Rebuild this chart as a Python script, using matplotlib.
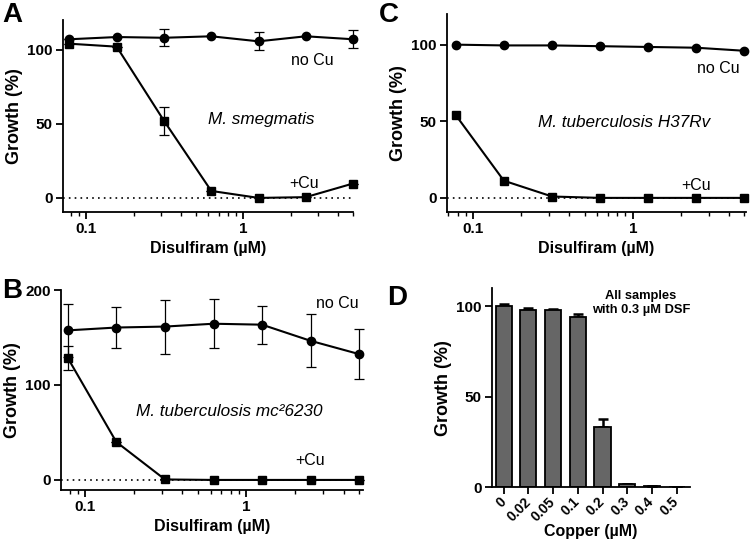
import matplotlib
matplotlib.use("Agg")
import matplotlib.pyplot as plt
from matplotlib.ticker import FixedLocator, FixedFormatter, LogLocator, NullFormatter

plt.rcParams["font.family"] = ["Liberation Sans", "DejaVu Sans"]
plt.rcParams["axes.linewidth"] = 1.3

# disulfiram doses (uM)
dsf = [0.078, 0.156, 0.3125, 0.625, 1.25, 2.5, 5.0]

# panel A - M. smegmatis
a_nocu = [107, 108.5, 108, 109, 105.6, 109, 107]
a_nocu_err = [0, 0, 5.7, 0, 6, 0, 6]
a_cu = [104, 102, 52, 4.7, 0, 0.5, 9.7]
a_cu_err = [0, 0, 9.5, 0, 0, 0, 0]

# panel B - M. tuberculosis mc2 6230
b_nocu = [157.5, 160.5, 161.5, 164.5, 163.5, 146.5, 132.5]
b_nocu_err = [28, 22, 28.5, 26, 20, 28, 26]
b_cu = [128.5, 40, 0.5, 0, 0, 0, 0]
b_cu_err = [13, 0, 0, 0, 0, 0, 0]

# panel C - M. tuberculosis H37Rv
c_nocu = [100, 99.5, 99.5, 99, 98.5, 98, 96]
c_cu = [54, 11.2, 0.9, 0, 0, 0, 0]

# panel D - copper titration with 0.3 uM DSF
copper = ["0", "0.02", "0.05", "0.1", "0.2", "0.3", "0.4", "0.5"]
d_growth = [100, 98, 98, 94, 33, 1.5, 0.5, 0]
d_err = [1.5, 1.0, 0.8, 1.5, 4.5, 0, 0, 0]

tick_font = dict(fontsize=11, fontweight="bold")
xlabel_font = dict(fontsize=11.5, fontweight="bold")
ylabel_font = dict(fontsize=13, fontweight="bold")

fig = plt.figure(figsize=(7.5, 5.43), dpi=100)
ax_a = fig.add_axes([0.084, 0.6096, 0.3867, 0.3536])
ax_c = fig.add_axes([0.5964, 0.6096, 0.398, 0.3646])
ax_b = fig.add_axes([0.0813, 0.0976, 0.403, 0.3683])
ax_d = fig.add_axes([0.6564, 0.1031, 0.2636, 0.366])


def dose_panel(ax, nocu, cu, nocu_err, cu_err, ylim, yticks, xlim):
    ax.axhline(0, color="black", linestyle=(0, (1, 2.5)), linewidth=1.2, zorder=1)
    ax.errorbar(dsf, nocu, yerr=nocu_err, color="black", marker="o", markersize=6,
                linewidth=1.5, elinewidth=0.9, capsize=3.5, capthick=0.9, clip_on=False, zorder=3)
    ax.errorbar(dsf, cu, yerr=cu_err, color="black", marker="s", markersize=6,
                linewidth=1.5, elinewidth=0.9, capsize=3.5, capthick=0.9, clip_on=False, zorder=3)
    ax.set_xscale("log")
    ax.set_xlim(*xlim)
    ax.set_ylim(*ylim)
    ax.xaxis.set_major_locator(FixedLocator([0.1, 1]))
    ax.xaxis.set_major_formatter(FixedFormatter(["0.1", "1"]))
    ax.xaxis.set_minor_locator(LogLocator(base=10, subs=range(2, 10)))
    ax.xaxis.set_minor_formatter(NullFormatter())
    ax.set_yticks(yticks)
    ax.set_yticklabels([str(v) for v in yticks], **tick_font)
    for lab in ax.get_xticklabels():
        lab.set_fontsize(11)
        lab.set_fontweight("bold")
    ax.tick_params(axis="both", which="major", length=5, width=1.3, pad=2.5)
    ax.tick_params(axis="x", which="minor", length=3, width=1.0)
    ax.spines["top"].set_visible(False)
    ax.spines["right"].set_visible(False)
    ax.set_xlabel("Disulfiram (µM)", labelpad=3, **xlabel_font)
    ax.set_ylabel("Growth (%)", labelpad=3, **ylabel_font)


dose_panel(ax_a, a_nocu, a_cu, a_nocu_err, a_cu_err, (-9.5, 120), [0, 50, 100], (0.071, 5.0))
ax_a.text(2.0, 93, "no Cu", fontsize=11.5, va="center")
ax_a.text(1.95, 9.5, "+Cu", fontsize=11.5, va="center")
ax_a.text(0.596, 52.7, "M. smegmatis", fontsize=12.3, style="italic", va="center")

dose_panel(ax_c, c_nocu, c_cu, None, None, (-9.2, 120), [0, 50, 100], (0.069, 5.1))
ax_c.text(2.51, 84.5, "no Cu", fontsize=11.5, va="center")
ax_c.text(2.02, 8.3, "+Cu", fontsize=11.5, va="center")
ax_c.text(0.254, 49.4, "M. tuberculosis H37Rv", fontsize=12.3, style="italic", va="center")

dose_panel(ax_b, b_nocu, b_cu, b_nocu_err, b_cu_err, (-10.6, 200), [0, 100, 200], (0.0708, 5.3))
ax_b.text(2.69, 186, "no Cu", fontsize=11.5, va="center")
ax_b.text(2.02, 20, "+Cu", fontsize=11.5, va="center")
ax_b.text(0.208, 72, "M. tuberculosis mc²6230", fontsize=12.3, style="italic", va="center")

# panel D bars
xpos = list(range(len(copper)))
ax_d.bar(xpos, d_growth, width=0.65, color="#666666", edgecolor="black", linewidth=1.3, zorder=2)
ax_d.errorbar(xpos, d_growth, yerr=[[0] * len(d_err), d_err], fmt="none", ecolor="black",
              elinewidth=1.8, capsize=3.5, capthick=1.8, zorder=1)
ax_d.set_xlim(-0.46, 7.54)
ax_d.set_ylim(0, 110)
ax_d.set_xticks(xpos)
ax_d.set_xticklabels(copper, rotation=45, ha="right", va="center", rotation_mode="anchor",
                     fontsize=10, fontweight="bold")
ax_d.set_yticks([0, 50, 100])
ax_d.set_yticklabels(["0", "50", "100"], **tick_font)
ax_d.tick_params(axis="both", length=5, width=1.3, pad=2.5)
ax_d.tick_params(axis="x", pad=4)
ax_d.spines["top"].set_visible(False)
ax_d.spines["right"].set_visible(False)
ax_d.set_xlabel("Copper (µM)", labelpad=0, **xlabel_font)
ax_d.set_ylabel("Growth (%)", labelpad=3, **ylabel_font)
ax_d.text(5.55, 109, "All samples\nwith 0.3 µM DSF", fontsize=9.3, fontweight="bold",
          ha="center", va="top", linespacing=1.25)

# panel letters
fig.text(0.003, 0.997, "A", fontsize=20, fontweight="bold", va="top")
fig.text(0.505, 0.997, "C", fontsize=20, fontweight="bold", va="top")
fig.text(0.003, 0.488, "B", fontsize=20, fontweight="bold", va="top")
fig.text(0.516, 0.475, "D", fontsize=20, fontweight="bold", va="top")

fig.savefig("out.png", dpi=100)
